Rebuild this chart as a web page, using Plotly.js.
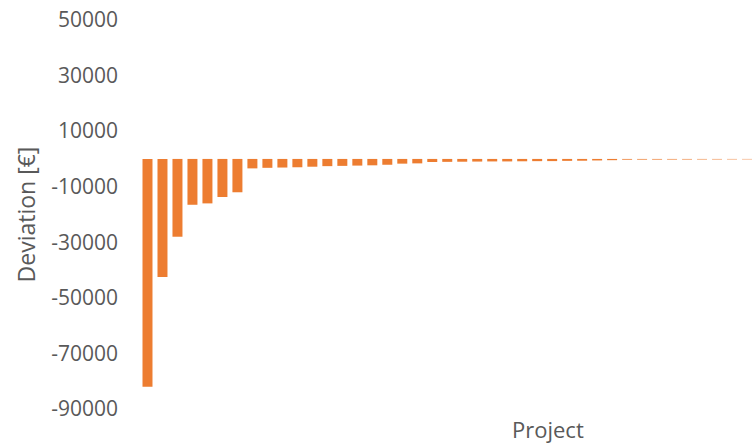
<!DOCTYPE html>
<html>
<head>
<meta charset="utf-8">
<script src="https://cdn.plot.ly/plotly-3.0.1.min.js"></script>
<style>html,body{margin:0;padding:0;overflow:hidden;background:#fff}</style>
</head>
<body>
<div id="chart" style="width:756px;height:446px"></div>
<script>
const projects = [1,2,3,4,5,6,7,8,9,10,11,12,13,14,15,16,17,18,19,20,21,22,23,24,25,26,27,28,29,30,31,32,33,34,35,36,37,38,39,40,41];
const deviation = [-82000,-42500,-28000,-16500,-16000,-13700,-12000,-3400,-3200,-3100,
  -3000,-2800,-2600,-2500,-2400,-2300,-2100,-1700,-1600,-1100,
  -1050,-1000,-950,-900,-900,-850,-800,-780,-700,-650,
  -550,-450,-280,-260,-250,-230,-220,-200,-190,-170,-150];
const yTicks = [50000,30000,10000,-10000,-30000,-50000,-70000,-90000];
const yTitle = 'Deviation [€]';
const xTitle = 'Project';

const textColor = '#595959';
const font = 'Open Sans, sans-serif';

Plotly.newPlot('chart', [{
  type: 'bar',
  x: projects,
  y: deviation,
  marker: {color: '#ED7D31'},
  hoverinfo: 'x+y'
}], {
  width: 756, height: 446,
  margin: {l: 139.5, r: 0, t: 20, b: 37, pad: 0},
  paper_bgcolor: '#fff', plot_bgcolor: '#fff',
  bargap: 1/3,
  showlegend: false,
  font: {family: font, color: textColor, size: 21},
  xaxis: {
    range: [0.5, 41.6],
    showticklabels: false, ticks: '', showgrid: false, zeroline: false, showline: false
  },
  yaxis: {
    range: [-90000, 50000],
    tickvals: yTicks,
    ticktext: yTicks.map(String),
    ticks: '', showgrid: false, zeroline: false, showline: false,
    ticklabelstandoff: 21,
    tickfont: {family: font, size: 21, color: textColor},
    title: {text: yTitle, font: {family: font, size: 23, color: textColor}, standoff: 9}
  },
  annotations: [{
    text: xTitle, xref: 'paper', yref: 'paper',
    x: (548 - 139.5) / 616.5, y: -20 / 389,
    xanchor: 'center', yanchor: 'middle', showarrow: false,
    font: {family: font, size: 22, color: textColor}
  }]
}, {staticPlot: true});
</script>
</body>
</html>
